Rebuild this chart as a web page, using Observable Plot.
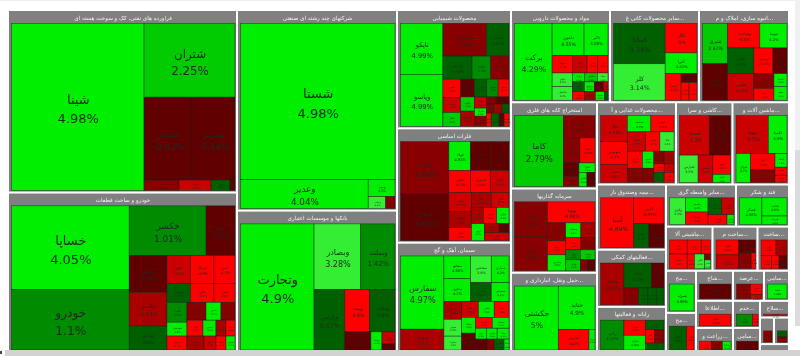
<!DOCTYPE html>
<html><head><meta charset="utf-8">
<script src="https://cdn.jsdelivr.net/npm/d3@7"></script>
<script src="https://cdn.jsdelivr.net/npm/@observablehq/plot@0.6"></script>
<style>
html,body{margin:0;padding:0;background:#fff;overflow:hidden;width:800px;height:356px}
#wrap{position:relative;width:800px;height:356px;overflow:hidden}
#chart svg{display:block;filter:blur(.45px);background:#fff}
.c{position:absolute}
</style></head><body>
<div id="wrap"><div id="chart"></div>
<div class="c" style="left:0;top:0;width:800px;height:1px;background:#eee"></div>
<div class="c" style="left:5px;top:350px;width:795px;height:6px;background:#d2d2d2"></div>
<div class="c" style="left:0;top:351px;width:2px;height:3px;background:#444"></div>
<div class="c" style="left:795px;top:150px;width:5px;height:176px;background:#dcdcdc"></div>
<div class="c" style="left:795px;top:0;width:5px;height:150px;background:#f0f0f0"></div>
</div>
<script>
// node helpers: c = stock (size share, % change, ticker), h/v = row/column groups, s = sector
const c=(w,pct,name)=>({w,pct,name});
const h=(w,...kids)=>({w,dir:"h",kids});
const v=(w,...kids)=>({w,dir:"v",kids});
const s=(w,title,inner)=>({w,title,inner});

const petroleumSide=h(10.5,c(35,-1.2,"شپنا"),c(32,-3.4,"شراز"),c(19,0.6,"شپاس"),c(5,-0.8,"نفت"));
const petroleum=h(1,c(132.6,4.98,"شینا"),v(91,c(74,2.25,"شتران"),h(83,c(48,-0.42,"شبندر"),c(43,-0.44,"شبریز")),petroleumSide));

const autosA=v(37.7,c(37,-0.55,"خمحور"),c(34,-2.54,"خگستر"),c(24,0.6,"خپارس"));
const autosB=h(47,v(23.5,c(28,-3.5,"خاور"),c(19,0.7,"خبهمن")),v(23.5,c(28,-4.8,"خرینگ"),c(19,-4.9,"خکاوه")),v(21,c(28,-4.7,"خفنر"),c(19,-4.6,"خمهر")));
const autosC=v(48,h(18,c(19,-1.5,"خریخت"),c(15,4.2,"خاذین"),c(14,-1.3,"خدیزل")),h(16,c(16,-4.4,"خکار"),c(13,4.1,"خنصیر"),c(10,-2.2,"ختور"),c(9,-4.8,"خساز")),h(14,c(17,-2.4,"خمحرکه"),c(12,-3.3,"ختوقا"),c(10,-4.7,"خفولا"),c(9,4.3,"خوساز")));
const autosD=h(48,v(20,c(20,1.6,"خلنت"),c(14,4.6,"خچرخش"),c(14,-4.5,"خشرق")),autosC);
const autos=h(1,v(117.6,c(84,4.05,"خساپا"),c(61,1.1,"خودرو")),v(105.7,h(50,c(77,1.01,"خکشر"),c(29,-0.48,"خزامیا")),h(95,autosA,v(68,autosB,autosD))));

const multi=v(1,c(157,4.98,"شستا"),h(29,c(128.7,4.04,"وعدیر"),v(27,c(17,4.5,"وسپه"),h(12,c(17,3.3,"ومعادن"),c(9,-1.6,"وصنا")))));

const banksB=v(50.5,h(42,c(25,-4.8,"وبیمه"),c(25.5,0.8,"وسالت")),h(18,c(26,-0.7,"وخارزم"),c(11,4.4,"وسینا"),v(13,c(12,-3.2,"وکار"),c(6,-0.6,"وملل"))));
const banks=h(1,c(74,4.9,"وتجارت"),v(81.5,h(65,c(47,3.28,"وبصادر"),c(34.5,1.42,"وبملت")),h(60,c(31,0.67,"وپارس"),banksB)));

const chemA=v(18,c(18.5,-4.6,"شفن"),c(15,-3.4,"شاراک"),c(14,2.1,"شکلر"));
const chemB=v(23,h(7,c(10,-1.3,"شبصیر"),c(13,-0.6,"شکربن")),h(9,c(8,-1.2,"شیراز"),c(8,-2.3,"شنفت"),c(7,0.4,"بترانس")),h(13,c(5,-4.2,"کیمیا"),c(8,0.5,"جم"),c(5,-0.7,"جهرم"),c(5,-4.1,"شسینا")));
const chemC=h(29.3,v(14,c(14,2.2,"شگویا"),c(15,-2.3,"کرماشا")),v(12,c(11,-3.2,"شاملا"),c(8,4.5,"شیران"),c(10,-1.4,"شصدف")),chemB);
const chemD=v(49,h(17.7,c(14,-0.6,"شلعاب"),c(12.5,0.4,"شفارس"),c(11.5,1.2,"شدوص"),c(11,-4.4,"شسپا")),chemC);
const chem=h(1,v(43,c(51,4.99,"تاپکو"),c(52,4.99,"وپاسو")),v(67,h(32.7,c(44,-1.24,"شپدیس"),c(23,0.62,"شخارک")),h(23,c(29.5,0.55,"فارس"),c(19,1.1,"نوری"),c(18.5,-1.3,"پارسان")),h(47,chemA,chemD)));

const metalsA=v(38,h(14.7,c(20,-2.44,"فلوله"),c(18,-3.3,"فالوم")),h(16.3,c(12,-2.2,"فپنتا"),c(13.5,-4.6,"فروس"),c(12.5,4.4,"فرآور")),h(17,c(13,4.7,"ارفع"),v(25,h(9,c(15,-2.6,"زنگان"),c(10,-0.8,"هرمز")),c(8,-3.4,"کگل"))));
const metals=h(1,v(49,c(52,-1.08,"ذوب"),c(47,-0.62,"فملی")),v(61,h(28.7,c(22,4.95,"فولاد"),c(20,-0.7,"فاسمین"),c(19,-0.6,"کاوه")),h(22.3,c(22,-4.15,"فخوز"),c(20,-4.4,"فسبزوار"),c(19,-3.82,"فایرا")),h(48,v(23,c(19,-3.29,"فجر"),c(16,-2.5,"فباهنر"),c(13,-4.5,"فنوال")),metalsA)));

const cementA=v(34,h(11,c(17,-4.3,"سبجنو"),c(17,4.2,"سدشت")),h(11,c(11,4.4,"سرود"),c(11,4.5,"سغرب"),c(12,4.1,"سیتا")),h(11,c(12,-0.7,"سنیر"),c(7,-1.4,"سنوین"),c(10,0.5,"سکارون"),c(5,4.6,"سباقر")));
const cementB=v(48,h(16,c(17,-3.4,"سخاش"),c(16,4.5,"سقاین"),c(15,-4.6,"ساوه")),h(33,v(14,c(16,4.6,"سپاها"),c(17,-0.8,"سهگمت")),cementA));
const cementTop=h(46,v(27,c(23,4.66,"سفانو"),c(23,4.7,"سخوز")),v(21,c(27,3.8,"سفاسی"),c(19,0.4,"سشرق")),v(18,c(27,4.2,"سمازن"),c(19,4.8,"سصوفی")));
const cement=h(1,v(44,c(74,4.97,"سفارس"),c(21,-2.4,"سبزوا")),v(66,cementTop,h(49,v(18,c(18,-2.3,"سیلام"),c(17,3.2,"سدور"),c(14,3.1,"سکرما")),cementB)));

const pharmaA=v(35.7,h(9,c(12,4.5,"درازک"),c(13,2.6,"دشیمی"),c(10.7,3.4,"دتماد")),h(10,c(12,0.7,"دعبید"),c(10,4.2,"دزهراوی"),c(9,-0.6,"دپارس"),c(4.7,-3.2,"دتهران")),h(8.7,c(12,-4.8,"داوه"),c(11,-2.3,"دیران"),c(9,4.4,"داسوه"),c(3.7,0.5,"درود")));
const pharma=h(1,c(37.7,4.29,"برکت"),v(56,h(32.7,c(32,4.55,"دامین"),c(24,4.08,"دالبر")),h(17.6,c(20.3,-4.3,"دسینا"),c(14.7,-3.6,"دفرا"),c(10.3,-4.2,"دجابر"),c(10.7,-4.5,"دلر")),h(27.7,v(20.3,c(14,3.2,"دکوثر"),c(14,3.3,"دکپسول")),pharmaA)));

const mineralsA=h(27,c(16,-4.6,"کهمدا"),v(16,c(9,-0.7,"کپشیر"),h(18,c(8,-4.3,"کسعدی"),c(8,-4.5,"کاذر"))));
const minerals=h(1,v(52,c(41,0.34,"کساپا"),c(37,3.14,"کلر")),v(32,c(30,-5,"کگاز"),c(21,4.22,"کفرا"),mineralsA));

const realEstateA=h(27,c(26,-3.42,"ثفارس"),v(20,c(15,-1.4,"ثباغ"),c(12,-4.3,"ثتران")),v(13,c(13,4.3,"ثاصفا"),c(14,4.5,"ثالوند")));
const realEstate=h(1,v(25,c(41,2.47,"ثشرق"),c(37,-0.58,"ثامان")),v(59,h(25,c(32,-4.5,"وساخت"),c(27,4.2,"ثنوسا")),h(26,c(26,0.7,"ثاخت"),c(19,-4.67,"ثپردیس"),c(14,-0.8,"ثعتما")),realEstateA));

const miningA=h(23.3,v(15.5,c(13.3,-0.7,"ورزیران"),c(10,-1.1,"کنور")),v(16,c(9.3,4.4,"کسرا"),h(14,c(8,4.6,"کبافق"),c(8,-0.5,"فرومولی"))));
const mining=h(1,c(48.5,2.79,"کاما"),v(31.5,c(22,-1.43,"کچاد"),h(24.7,c(16.5,-1.2,"کگل"),c(15,-4.66,"کدما")),miningA));

const investA=v(29,h(15,c(15,4.6,"وسبحان"),c(14,-2.2,"وصنعت")),h(12,c(15,-4.4,"سمگا"),c(14,-1.3,"سدبیر")),h(10,c(14.5,1.8,"وآذر"),c(14.5,2.3,"ومهان")),h(11,c(14.5,2.4,"وایران"),c(7,-1.3,"وتوس"),c(7.5,-0.7,"وتوکا")));
const invest=h(1,v(32.7,c(35,-1.34,"وغدیر"),c(34,-1.07,"وبانک")),v(47,c(21,-4.88,"وپویا"),h(48,v(18,c(18,-1.3,"ونیکی"),c(14,-4.3,"وساپا"),c(16,4.5,"وصندوق")),investA)));

const transport=h(1,c(43.5,5,"حکشتی"),v(36.5,c(44,4.9,"حتاید"),h(21,c(30.5,-4.6,"حفارس"),c(6,4.2,"حریل"))));

const foodA=v(20,h(12.3,c(10.3,-1.2,"غکورش"),c(9.7,-2.4,"غچین")),h(8.3,c(10.3,-4.3,"غصینو"),c(9.7,-3.2,"غپآذر")),h(10,c(10.3,0.6,"غزر"),c(9.7,-4.6,"غاذر")));
const foodB=h(30.7,v(15,c(16.7,-4.6,"غگرجی"),c(14,-1.5,"غسالم")),v(11.3,c(16.7,4.2,"غمینو"),c(14,-1.3,"غفارس")),foodA);
const food=h(1,v(26.7,c(25.7,-3.32,"غگل"),c(22.3,-4.1,"غبهنوش"),c(17.7,-3.5,"غشان")),v(46.3,h(16,c(23.3,4.5,"غدشت"),c(23,-4.5,"غپینو")),h(19,c(18,-3.3,"غمارگ"),c(14.3,-4.4,"غنوش"),c(14,3.4,"غپاک")),foodB));

const tiles=v(1,h(39,c(30.3,-3.2,"کسرا"),c(21,-0.63,"کساوه")),h(27,c(19,3.5,"کفپارس"),c(15,-3.2,"کسعدی"),v(18,c(19,-4.4,"کپرور"),c(8,4.2,"کترام"))));

const machinery=v(1,h(37.3,c(32.3,-3.5,"بمپنا"),c(18.7,4.9,"تکمبا")),h(28.4,c(14.3,4.7,"فنوال"),v(24.7,c(16,-4.5,"تایرا"),c(12.4,-1.5,"تفیرو")),v(12,c(13.4,4.4,"لابسا"),c(8,-4.3,"فجام"),c(7,-4.1,"کمنگنز"))));

const insurance=h(1,c(33,-4.89,"آسیا"),v(30,c(26.3,-4.97,"البرز"),h(24.4,c(15,0.7,"کرمان"),v(15,c(15,-0.8,"دانا"),c(9,-0.6,"بساما")))));

const support=h(1,c(23.3,-2.51,"مفاخر"),v(40,h(25,c(27.4,0.72,"اتکام"),c(12.6,-0.8,"ومعلم")),h(17,c(14.7,-1.3,"کاردان"),c(9.3,0.6,"ثروت"),c(8.3,0.5,"افق"),c(7.7,0.4,"امین"))));

const computing=h(1,c(23.3,1.47,"رتاپ"),v(21.4,c(15.7,-4.6,"سپ"),c(15.3,4.28,"مداران")),v(18.6,c(10,0.7,"فن"),h(14,c(9.3,-4.5,"رکیش"),c(9.3,-1.4,"مفن")),c(7.3,0.5,"پرداخت")));

const otherFinance=h(1,c(16,3.3,"وآفری"),v(22.6,c(14.3,4.4,"ولصنم"),c(12.7,-4.6,"ولساپا")),v(26,h(17,c(13.7,0.6,"وایران"),c(12.3,-3.3,"ولغدر")),h(10,c(19,-4.3,"ولپارس"),c(7,4.2,"وملی"))));

const sugar=h(1,c(22.6,4.98,"قشکر"),v(25.4,c(18.3,4.6,"قثابت"),c(8.7,4.4,"قلرست")));

const machinery2=v(1,h(14.3,c(17.7,-4.5,"بکام"),c(14,-4.4,"بنیرو"),c(9.3,-4.3,"بترانس")),h(15,c(17.7,-4.6,"بشهاب"),c(7.3,-4.2,"برقا"),c(10,3.2,"بالاس"),v(6,c(6,-1.5,"بموتو"),c(9,3.4,"بفجر"))));

const metalGoods=h(1,v(22.7,c(15.3,-4.55,"فلوله"),c(14.2,-3.42,"فنر")),v(17,c(13.3,-0.6,"فمراد"),h(16.2,c(12.7,-1.4,"فجهان"),c(4.3,-4.2,"فاذر"))));

const electronics=v(1,h(16,c(16.4,-4.3,"لخزر"),c(12,-2.3,"لبوتان")),h(13.5,c(11.4,-4.4,"لکما"),c(8.3,-4.5,"لپارس"),c(8.7,-0.6,"لطیف")));

const telecom=c(1,4.98,"همراه");
const wood=c(1,-0.7,"چکاوه");
const utility=h(1,c(14.7,-1.2,"بگیلان"),v(12,c(10,-4.6,"بخاور"),c(4.3,-3.3,"تابا")));
const other1=c(1,4.68,"ساینا");
const info=c(1,-4.9,"فناوا");
const tech=h(1,c(16,1.3,"رفاه"),c(5.6,-4.2,"خدمت"));
const agri=h(1,c(12.3,-4.4,"زکشت"),c(11.7,-1.2,"زماهان"),c(9,4.2,"زشگزا"));
const other2=c(1,-0.9,"سامی");
const telecom2=h(1,c(17,0.5,"اخابر"),c(7.3,-4.4,"شاتل"));
const arms=c(1,-4.7,"لفنوس");
const minor1=c(1,-1.4,"مرقام");
const minor2=v(1,c(6,0.6,"سکه"),c(5,-1.3,"ددام"));

// sector frames: shares of the screen along each split
const colSmall=v(27,s(15,"سلاح...",arms),h(25,s(12,"",minor1),s(13,"",minor2)),s(6,"",h(1)));
const colTech=v(25,s(25,"خدم...",tech),s(22,"سامی...",other2));
const blockE=v(54,h(28,s(29,"عرضة...",utility),s(23,"سامی...",other1)),h(49,colTech,colSmall));
const blockF=h(79,v(28,s(40,"مخ...",telecom),s(37,"مح...",telecom2)),v(35,s(28,"شاخ...",wood),s(25,"اطلاعا...",info),s(22,"زراعت و...",agri)),blockE);
const blockG=v(121,h(40,s(68,"سایر واسطه گری...",otherFinance),s(51,"قند و شکر",sugar)),h(42,s(44.5,"ماشینی آلا...",machinery2),s(43,"ساخت م...",metalGoods),s(29.5,"ساخت...",electronics)),blockF);
const blockH=h(165,v(67,s(63,"بیمه وصندوق باز...",insurance),s(55,"فعالیتهای کمکی...",support),s(43,"رایانه و فعالیتها",computing)),blockG);
const blockI=v(190,h(80,s(77,"محصولات غذایی و آ...",food),s(54.5,"کاشی و سرا...",tiles),s(54.5,"ماشین آلات و...",machinery)),blockH);
const blockJ=h(247,v(84,s(84,"استخراج کانه های فلزی",mining),s(82,"سرمایه گذاریها",invest),s(77,"حمل ونقل، انبارداری و...",transport)),blockI);
const col4=v(276,h(90,s(97,"مواد و محصولات دارویی",pharma),s(87,"سایر محصولات کانی غ...",minerals),s(88,"انبوه سازی، املاک و م...",realEstate)),blockJ);
const col1=v(227,s(180,"فراورده های نفتی، کک و سوخت هسته ای",petroleum),s(157,"خودرو و ساخت قطعات",autos));
const col2=v(158,s(198,"شرکتهای چند رشته ای صنعتی",multi),s(139,"بانکها و موسسات اعتباری",banks));
const col3=v(112,s(116,"محصولات شیمیایی",chem),s(112,"فلزات اساسی",metals),s(107,"سیمان، آهک و گچ",cement));
const root=h(1,col1,col2,col3,col4);

// layout: sizes are shared out along each group's split direction
const sectors=[],cells=[];
const hasSector=n=>n.title!==undefined||(n.kids||[]).some(hasSector);
function place(n,x0,y0,x1,y1){
  if(n.title!==undefined){
    sectors.push({x0,y0,x1,y1,title:n.title});
    return place(n.inner,x0+2.5,y0+12.3,x1-1,y1-1);
  }
  if(!n.kids){cells.push({x0,y0,x1,y1,pct:n.pct,name:n.name});return;}
  if(!n.kids.length)return;
  const gap=hasSector(n)?2:0,total=d3.sum(n.kids,k=>k.w);
  const horizontal=n.dir==="h";
  const span=(horizontal?x1-x0:y1-y0)-gap*(n.kids.length-1);
  let p=horizontal?x0:y0;
  for(const k of n.kids){
    const len=span*k.w/total;
    if(horizontal)place(k,p,y0,p+len,y1);else place(k,x0,p,x1,p+len);
    p+=len+gap;
  }
}
place(root,0,0,779,340);

const fs=d=>{const W=d.x1-d.x0,H=d.y1-d.y0;return Math.max(2.2,Math.min(13,.145*Math.sqrt(W*H),W/3.9,H/3.2));};
const font="DejaVu Sans, Tahoma, sans-serif";
const titled=sectors.filter(d=>d.title);
const tfs=d=>Math.min(5.6,(d.x1-d.x0-2)/(d.title.length*.5));

document.getElementById("chart").append(Plot.plot({
  width:800,height:356,margin:0,
  x:{domain:[0,779],range:[9,788],axis:null},
  y:{domain:[0,340],range:[11,351],axis:null},
  color:{type:"threshold",domain:[-4,-3,-2,-1,0,1,2,3,4],
    range:["#ff0000","#cc0000","#aa0000","#880000","#600000","#006000","#008c00","#00cc00","#33ee33","#00ee00"]},
  style:{background:"#fff",fontFamily:font},
  marks:[
    Plot.rect(sectors,{x1:"x0",x2:"x1",y1:"y0",y2:"y1",fill:"#808080"}),
    Plot.rect(cells,{x1:"x0",x2:"x1",y1:"y0",y2:"y1",fill:"pct",stroke:"#1c1c1c",strokeWidth:.6,strokeOpacity:.75}),
    Plot.text(titled,{x:d=>(d.x0+d.x1)/2,y:d=>d.y0+6.3,text:"title",fill:"#f2f2f2",fontSize:tfs,fontFamily:font}),
    Plot.text(cells,{x:d=>(d.x0+d.x1)/2,y:d=>(d.y0+d.y1)/2,text:d=>`${d.name}\n${d.pct}%`,fontSize:fs,lineHeight:1.5,fill:"#1d2a24",fontFamily:font})
  ]
}));
</script>
</body></html>
